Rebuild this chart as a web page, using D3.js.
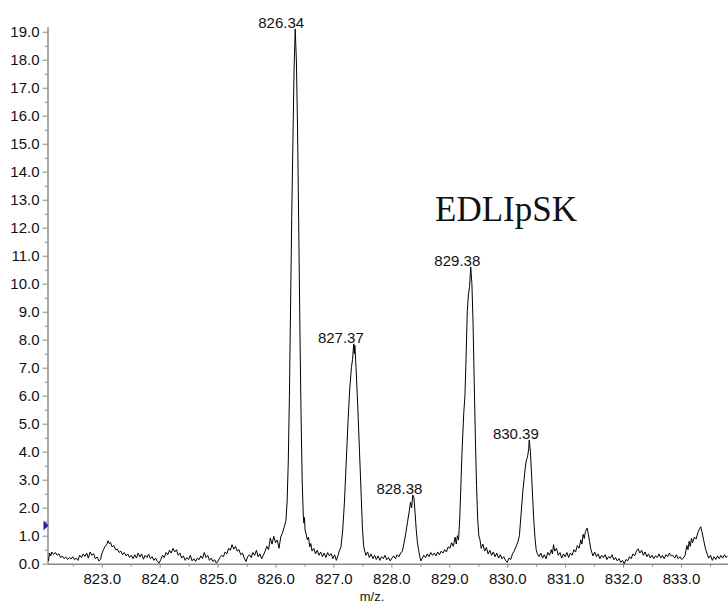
<!DOCTYPE html>
<html>
<head>
<meta charset="utf-8">
<script src="https://cdn.jsdelivr.net/npm/d3@7"></script>
<style>
  body { margin: 0; background: #fff; }
  svg { display: block; }
  .tick text { font-family: "Liberation Sans", Arial, sans-serif; }
</style>
</head>
<body>
<div class="chart"></div>
<script>
// spectrum: [m/z, intensity]
var spectrum = [
  [822.08,0.10],[822.10,0.38],[822.12,0.28],[822.14,0.42],[822.17,0.33],[822.20,0.40],[822.23,0.30],[822.26,0.36],
  [822.29,0.22],[822.32,0.27],[822.35,0.18],[822.38,0.24],[822.41,0.15],[822.44,0.22],[822.47,0.17],[822.50,0.25],
  [822.53,0.14],[822.56,0.20],[822.59,0.12],[822.62,0.30],[822.65,0.22],[822.68,0.35],[822.71,0.26],[822.74,0.38],
  [822.77,0.20],[822.80,0.42],[822.83,0.30],[822.86,0.36],[822.89,0.18],[822.92,0.24],[822.95,0.10],[822.98,0.15],
  [823.00,0.35],[823.03,0.50],[823.06,0.62],[823.09,0.70],[823.11,0.82],[823.13,0.72],[823.15,0.76],[823.18,0.60],
  [823.21,0.65],[823.24,0.50],[823.27,0.52],[823.30,0.40],[823.33,0.45],[823.36,0.32],[823.39,0.40],[823.42,0.28],
  [823.45,0.35],[823.48,0.22],[823.51,0.30],[823.54,0.18],[823.57,0.32],[823.60,0.20],[823.63,0.38],[823.66,0.24],
  [823.69,0.35],[823.72,0.16],[823.75,0.30],[823.78,0.22],[823.81,0.34],[823.84,0.18],[823.87,0.25],[823.90,0.12],
  [823.93,0.20],[823.96,0.08],[823.99,0.02],[824.02,0.15],[824.05,0.30],[824.08,0.22],[824.11,0.40],[824.14,0.32],
  [824.17,0.48],[824.20,0.38],[824.23,0.55],[824.26,0.42],[824.29,0.50],[824.32,0.30],[824.35,0.38],[824.38,0.20],
  [824.41,0.28],[824.44,0.12],[824.47,0.22],[824.50,0.15],[824.53,0.30],[824.56,0.10],[824.59,0.18],[824.62,0.08],
  [824.65,0.20],[824.68,0.14],[824.71,0.28],[824.74,0.18],[824.77,0.40],[824.80,0.22],[824.83,0.30],[824.86,0.12],
  [824.89,0.20],[824.92,0.08],[824.95,0.14],[824.98,0.02],[825.01,0.10],[825.04,0.22],[825.07,0.30],[825.10,0.25],
  [825.13,0.42],[825.16,0.35],[825.19,0.55],[825.22,0.48],[825.25,0.68],[825.28,0.52],[825.31,0.62],[825.34,0.45],
  [825.37,0.50],[825.40,0.32],[825.43,0.38],[825.46,0.20],[825.49,0.08],[825.52,0.25],[825.55,0.32],[825.58,0.22],
  [825.61,0.40],[825.64,0.30],[825.67,0.48],[825.70,0.25],[825.73,0.35],[825.76,0.18],[825.79,0.30],[825.82,0.45],
  [825.85,0.62],[825.88,0.50],[825.91,0.92],[825.94,0.70],[825.97,0.98],[826.00,0.75],[826.03,0.85],[826.06,0.55],
  [826.09,0.95],[826.12,1.10],[826.15,1.30],[826.18,1.55],
  [826.20,2.2],[826.22,3.6],[826.24,6.0],[826.26,9.2],[826.28,12.4],[826.30,15.0],[826.32,17.6],[826.34,19.1],
  [826.36,18.0],[826.38,15.6],[826.40,12.2],[826.42,8.6],[826.44,5.4],[826.46,3.0],[826.48,1.7],[826.49,1.45],
  [826.50,1.65],[826.51,1.2],[826.53,1.05],[826.55,0.85],[826.57,0.95],[826.59,0.60],[826.61,0.72],[826.63,0.45],
  [826.66,0.55],[826.69,0.35],[826.72,0.48],[826.75,0.30],[826.78,0.42],[826.81,0.25],[826.84,0.38],[826.87,0.22],
  [826.90,0.40],[826.93,0.28],[826.96,0.36],[826.99,0.18],[827.02,0.32],[827.05,0.12],[827.08,0.30],[827.10,0.45],
  [827.13,0.60],[827.16,1.2],[827.19,2.2],[827.22,3.6],[827.25,5.0],[827.28,6.2],[827.31,7.0],[827.33,7.3],
  [827.35,7.85],[827.36,7.5],[827.37,7.8],[827.39,7.0],[827.42,5.6],[827.45,4.0],[827.48,2.4],[827.50,1.3],
  [827.52,0.65],[827.54,0.45],[827.56,0.30],[827.59,0.42],[827.62,0.22],[827.65,0.35],[827.68,0.18],[827.71,0.30],
  [827.74,0.15],[827.77,0.28],[827.80,0.12],[827.83,0.25],[827.86,0.18],[827.89,0.30],[827.92,0.14],[827.95,0.22],
  [827.98,0.10],[828.01,0.20],[828.04,0.28],[828.07,0.18],[828.10,0.32],[828.13,0.25],[828.16,0.38],[828.19,0.45],
  [828.22,0.75],[828.25,1.1],[828.28,1.5],[828.31,1.9],[828.33,2.2],[828.35,2.0],[828.37,2.45],[828.39,2.35],
  [828.41,1.8],[828.43,1.2],[828.45,0.75],[828.47,0.50],[828.49,0.25],[828.51,0.10],[828.53,0.18],[828.56,0.30],
  [828.59,0.22],[828.62,0.35],[828.65,0.25],[828.68,0.40],[828.71,0.30],[828.74,0.38],[828.77,0.28],[828.80,0.42],
  [828.83,0.32],[828.86,0.45],[828.89,0.38],[828.92,0.50],[828.95,0.42],[828.98,0.60],[829.01,0.55],[829.04,0.75],
  [829.07,0.62],[829.10,0.95],[829.12,0.70],[829.14,1.00],[829.16,0.85],
  [829.18,1.6],[829.20,2.8],[829.22,4.0],[829.25,5.4],[829.27,6.0],[829.29,7.4],[829.31,9.0],[829.33,9.6],
  [829.35,9.9],[829.37,10.6],[829.39,10.0],[829.41,8.6],[829.43,6.5],[829.45,4.5],[829.47,2.8],[829.49,1.6],
  [829.51,1.0],[829.53,0.85],[829.55,0.55],[829.58,0.70],[829.61,0.45],[829.64,0.58],[829.67,0.35],[829.70,0.48],
  [829.73,0.30],[829.76,0.42],[829.79,0.25],[829.82,0.38],[829.85,0.20],[829.88,0.32],[829.91,0.18],[829.94,0.25],
  [829.97,0.12],[830.00,0.05],[830.03,0.20],[830.06,0.15],[830.09,0.35],[830.12,0.45],[830.15,0.60],[830.18,0.75],
  [830.21,1.0],[830.24,1.8],[830.27,2.6],[830.29,3.0],[830.31,3.4],[830.33,3.7],[830.35,3.8],[830.37,4.1],
  [830.38,4.42],[830.40,4.0],[830.42,3.2],[830.44,2.3],[830.46,1.5],[830.48,0.9],[830.50,0.5],[830.52,0.35],
  [830.55,0.25],[830.58,0.38],[830.61,0.20],[830.64,0.32],[830.67,0.18],[830.70,0.40],[830.73,0.30],[830.76,0.50],
  [830.78,0.35],[830.80,0.68],[830.82,0.45],[830.85,0.55],[830.88,0.30],[830.91,0.40],[830.94,0.20],[830.97,0.35],
  [831.00,0.25],[831.03,0.40],[831.06,0.22],[831.09,0.38],[831.12,0.30],[831.15,0.50],[831.18,0.42],[831.21,0.65],
  [831.24,0.55],[831.27,0.85],[831.29,0.70],[831.31,1.05],[831.33,0.90],[831.35,1.15],[831.38,1.27],[831.40,1.05],
  [831.42,0.80],[831.44,0.55],[831.46,0.40],[831.48,0.28],[831.51,0.42],[831.54,0.25],[831.57,0.35],[831.60,0.18],
  [831.63,0.30],[831.66,0.22],[831.69,0.32],[831.72,0.15],[831.75,0.25],[831.78,0.20],[831.81,0.32],[831.84,0.14],
  [831.87,0.22],[831.90,0.10],[831.93,0.18],[831.96,0.05],[831.99,0.12],[832.02,0.00],[832.05,0.15],[832.08,0.10],
  [832.11,0.25],[832.14,0.18],[832.17,0.35],[832.20,0.28],[832.23,0.45],[832.26,0.53],[832.29,0.38],[832.32,0.48],
  [832.35,0.30],[832.38,0.42],[832.41,0.25],[832.44,0.35],[832.47,0.20],[832.50,0.30],[832.53,0.18],[832.56,0.28],
  [832.59,0.22],[832.62,0.35],[832.65,0.20],[832.68,0.30],[832.71,0.18],[832.74,0.32],[832.77,0.25],[832.80,0.38],
  [832.83,0.28],[832.86,0.30],[832.89,0.20],[832.92,0.32],[832.95,0.18],[832.98,0.25],[833.01,0.15],[833.04,0.20],
  [833.07,0.30],[833.10,0.65],[833.12,0.50],[833.14,0.80],[833.16,0.62],[833.18,0.90],[833.20,0.75],[833.23,0.95],
  [833.26,0.88],[833.29,1.10],[833.32,1.25],[833.34,1.32],[833.36,1.15],[833.39,0.85],[833.42,0.55],[833.45,0.35],
  [833.48,0.20],[833.51,0.30],[833.54,0.12],[833.57,0.25],[833.60,0.15],[833.63,0.28],[833.66,0.18],[833.69,0.30],
  [833.72,0.20],[833.75,0.32],[833.78,0.22],[833.80,0.28]
];

// labelled peaks
var peakMz = [826.34, 827.37, 828.38, 829.38, 830.39];
var peakTop = [19.1, 7.85, 2.45, 10.6, 4.42];
var peakText = ["826.34", "827.37", "828.38", "829.38", "830.39"];

var xTicks = [823, 824, 825, 826, 827, 828, 829, 830, 831, 832, 833];
var xMinor = [822.5, 823.5, 824.5, 825.5, 826.5, 827.5, 828.5, 829.5, 830.5, 831.5, 832.5, 833.5];
var yTicks = [0, 1, 2, 3, 4, 5, 6, 7, 8, 9, 10, 11, 12, 13, 14, 15, 16, 17, 18, 19];
var yMinor = [0.5, 1.5, 2.5, 3.5, 4.5, 5.5, 6.5, 7.5, 8.5, 9.5, 10.5, 11.5, 12.5, 13.5, 14.5, 15.5, 16.5, 17.5, 18.5];
var markerLevel = 1.36;
var peptide = "EDLIpSK";
var xLabel = "m/z.";

var width = 728, height = 603;
var axisColor = "#8a8a8a";

var x = d3.scaleLinear().domain([822.064, 833.811]).range([47.5, 728]);
var y = d3.scaleLinear().domain([0, 19.18]).range([563.7, 26.7]);

var svg = d3.select(".chart")
    .append("svg")
    .attr("width", width)
    .attr("height", height);

// minor ticks first, so major axes sit on top
svg.append("g")
    .attr("transform", "translate(0," + y(0) + ")")
    .call(d3.axisBottom(x).tickValues(xMinor).tickSize(3).tickFormat(""))
    .call(g => g.select(".domain").remove())
    .call(g => g.selectAll("line").attr("stroke", axisColor));

svg.append("g")
    .attr("transform", "translate(" + x.range()[0] + ",0)")
    .call(d3.axisLeft(y).tickValues(yMinor).tickSize(3).tickFormat(""))
    .call(g => g.select(".domain").remove())
    .call(g => g.selectAll("line").attr("stroke", axisColor));

// x axis
var xAxis = svg.append("g")
    .attr("transform", "translate(0," + y(0) + ")")
    .call(d3.axisBottom(x).tickValues(xTicks).tickSizeInner(4).tickSizeOuter(0).tickPadding(6)
        .tickFormat(d3.format(".1f")));
xAxis.select(".domain").attr("stroke", axisColor).attr("stroke-width", 1.5);
xAxis.selectAll("line").attr("stroke", axisColor);
xAxis.selectAll("text").style("font-size", "15px").attr("fill", "#111");

// y axis
var yAxis = svg.append("g")
    .attr("transform", "translate(" + x.range()[0] + ",0)")
    .call(d3.axisLeft(y).tickValues(yTicks).tickSizeInner(5).tickSizeOuter(0).tickPadding(3)
        .tickFormat(d3.format(".1f")));
yAxis.select(".domain").attr("stroke", axisColor).attr("stroke-width", 1.5);
yAxis.selectAll("line").attr("stroke", axisColor);
yAxis.selectAll("text").style("font-size", "15px").attr("fill", "#111");

// spectrum trace
var line = d3.line()
    .x(d => x(d[0]))
    .y(d => y(d[1]));

svg.append("path")
    .datum(spectrum)
    .attr("fill", "none")
    .attr("stroke", "#000")
    .attr("stroke-width", 1)
    .attr("stroke-linejoin", "round")
    .attr("d", line);

// peak labels
svg.selectAll(".peak")
    .data(peakMz)
    .enter().append("text")
    .attr("class", "peak")
    .attr("x", (d, i) => x(d) - 14)
    .attr("y", (d, i) => y(peakTop[i]) - 1)
    .attr("text-anchor", "middle")
    .style("font-family", "'Liberation Sans', Arial, sans-serif")
    .style("font-size", "15px")
    .attr("fill", "#111")
    .text((d, i) => peakText[i]);

// blue level marker on the y axis
var mx = x.range()[0], my = y(markerLevel);
svg.append("path")
    .attr("d", "M" + (mx - 4) + "," + (my - 5) + "L" + (mx + 1) + "," + my + "L" + (mx - 4) + "," + (my + 5) + "Z")
    .attr("fill", "#1f22a8");

svg.append("text")
    .attr("x", 435)
    .attr("y", 221)
    .style("font-family", "'Liberation Serif', 'Times New Roman', serif")
    .style("font-size", "35px")
    .attr("fill", "#111")
    .text(peptide);

svg.append("text")
    .attr("x", 372)
    .attr("y", 601)
    .attr("text-anchor", "middle")
    .style("font-family", "'Liberation Sans', Arial, sans-serif")
    .style("font-size", "13px")
    .attr("fill", "#111")
    .text(xLabel);
</script>
</body>
</html>
